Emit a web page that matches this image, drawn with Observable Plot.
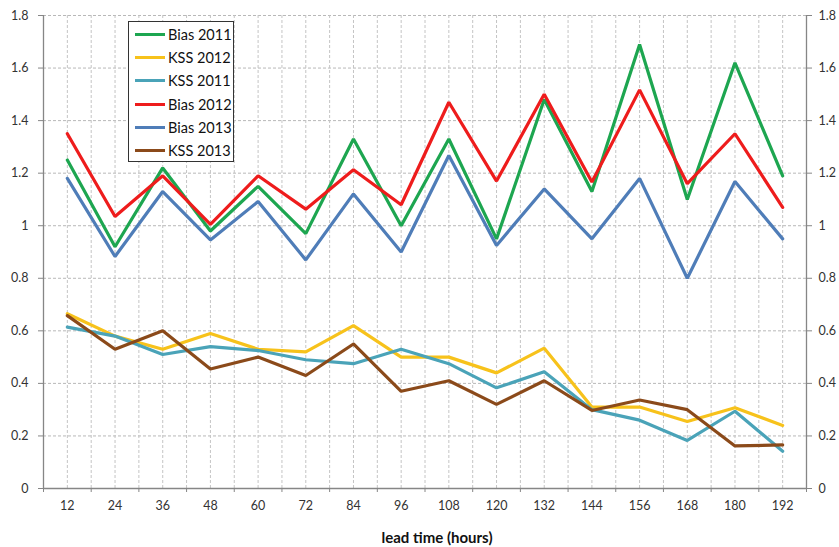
<!DOCTYPE html>
<html>
<head>
<meta charset="utf-8">
<script src="https://cdn.jsdelivr.net/npm/d3@7"></script>
<script src="https://cdn.jsdelivr.net/npm/@observablehq/plot@0.6"></script>
<style>
  html, body { margin: 0; padding: 0; background: #fff; }
  #wrap { position: relative; width: 839px; height: 547px; font-family: Lato, "Open Sans", sans-serif; }
  #legend { position: absolute; left: 128px; top: 21px; width: 106px; height: 141px; border: 1px solid #333; background: #fff; box-sizing: border-box; padding-top: 1px; }
  .item { height: 23.2px; display: flex; align-items: center; font-size: 14.5px; color: #111; white-space: nowrap; }
  .sw { width: 30px; height: 3px; margin-left: 6px; margin-right: 3px; flex: none; }
</style>
</head>
<body>
<div id="wrap"></div>
<script>
const leadTimes = [12, 24, 36, 48, 60, 72, 84, 96, 108, 120, 132, 144, 156, 168, 180, 192];

const bias2011 = [1.25, 0.92, 1.22, 0.98, 1.15, 0.97, 1.33, 1.00, 1.33, 0.95, 1.48, 1.13, 1.69, 1.10, 1.62, 1.19];
const kss2012  = [0.665, 0.58, 0.53, 0.59, 0.53, 0.52, 0.62, 0.50, 0.50, 0.44, 0.534, 0.31, 0.31, 0.255, 0.307, 0.24];
const kss2011  = [0.614, 0.58, 0.51, 0.54, 0.525, 0.49, 0.475, 0.53, 0.475, 0.383, 0.444, 0.30, 0.26, 0.183, 0.294, 0.142];
const bias2012 = [1.35, 1.035, 1.19, 1.005, 1.19, 1.063, 1.213, 1.08, 1.47, 1.17, 1.50, 1.166, 1.517, 1.16, 1.35, 1.07];
const bias2013 = [1.18, 0.883, 1.13, 0.946, 1.092, 0.87, 1.121, 0.90, 1.267, 0.925, 1.14, 0.95, 1.18, 0.80, 1.168, 0.95];
const kss2013  = [0.658, 0.53, 0.60, 0.455, 0.50, 0.43, 0.55, 0.37, 0.41, 0.32, 0.41, 0.297, 0.337, 0.30, 0.162, 0.166];

const seriesNames  = ["Bias 2011", "KSS 2012", "KSS 2011", "Bias 2012", "Bias 2013", "KSS 2013"];
const seriesValues = [bias2011, kss2012, kss2011, bias2012, bias2013, kss2013];
const seriesColors = ["#1da650", "#f7c21b", "#4aa3b8", "#ee1c1c", "#4f7db8", "#8b4a1a"];

const yTicks = [0, 0.2, 0.4, 0.6, 0.8, 1, 1.2, 1.4, 1.6, 1.8];
const yTickLabels = ["0", "0.2", "0.4", "0.6", "0.8", "1", "1.2", "1.4", "1.6", "1.8"];
const xBounds = [6, 18, 30, 42, 54, 66, 78, 90, 102, 114, 126, 138, 150, 162, 174, 186, 198];
const xTitle = "lead time (hours)";

const data = seriesNames.flatMap((name, i) =>
  leadTimes.map((t, j) => ({series: name, lead: t, value: seriesValues[i][j]}))
);

const gridX = [...leadTimes, ...xBounds.slice(1, -1)];
const yFmt = d => yTickLabels[yTicks.findIndex(t => Math.abs(t - d) < 1e-9)];

const chart = Plot.plot({
  width: 839,
  height: 547,
  marginLeft: 43,
  marginRight: 33,
  marginTop: 15,
  marginBottom: 59,
  style: {fontFamily: "Lato, 'Open Sans', sans-serif", fontSize: "12.5px", color: "#333", background: "#fff"},
  x: {type: "linear", domain: [6, 198]},
  y: {domain: [0, 1.8]},
  color: {domain: seriesNames, range: seriesColors},
  marks: [
    Plot.gridY(yTicks.slice(1), {stroke: "#b8b8b8", strokeOpacity: 1, strokeDasharray: "3,2"}),
    Plot.gridX(gridX, {stroke: "#c4c4c4", strokeOpacity: 1, strokeDasharray: "3,2"}),
    Plot.axisY({anchor: "left", ticks: yTicks, tickFormat: yFmt, tickSize: 5, tickPadding: 10, label: null, stroke: "#868686", fill: "#333"}),
    Plot.axisY({anchor: "right", ticks: yTicks, tickFormat: yFmt, tickSize: 5, tickPadding: 7, label: null, stroke: "#868686", fill: "#333"}),
    Plot.axisX({ticks: leadTimes, tickSize: 0, tickPadding: 13, label: null, fill: "#333"}),
    Plot.axisX({ticks: xBounds, tickSize: 4, tickFormat: () => "", label: null, stroke: "#868686"}),
    Plot.ruleX([6, 198], {stroke: "#868686", strokeWidth: 1.3}),
    Plot.ruleY([0], {stroke: "#868686", strokeWidth: 1.3}),
    Plot.line(data, {x: "lead", y: "value", z: "series", stroke: "series", strokeWidth: 3.2, strokeLinejoin: "miter"}),
    Plot.text([xTitle], {frameAnchor: "bottom", lineAnchor: "middle", dy: 50, dx: 12, fontWeight: "bold", fontSize: 15, fill: "#111"})
  ]
});

const wrap = document.getElementById("wrap");
wrap.appendChild(chart);

const legend = document.createElement("div");
legend.id = "legend";
seriesNames.forEach((name, i) => {
  const item = document.createElement("div");
  item.className = "item";
  const sw = document.createElement("span");
  sw.className = "sw";
  sw.style.background = seriesColors[i];
  const label = document.createElement("span");
  label.textContent = name;
  item.appendChild(sw);
  item.appendChild(label);
  legend.appendChild(item);
});
wrap.appendChild(legend);
</script>
</body>
</html>
